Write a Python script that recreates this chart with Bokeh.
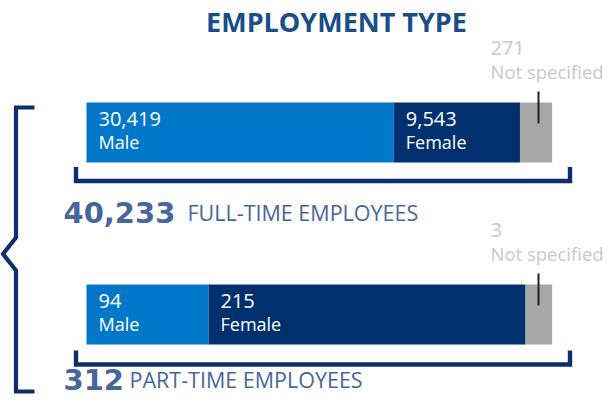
from bokeh.plotting import figure
from bokeh.models import Range1d, ColumnDataSource
from bokeh.core.properties import value
from bokeh.embed import file_html
from bokeh.resources import INLINE

# ---- data ----
segments = ["Male", "Female", "Not specified"]
full_time_counts = [30419, 9543, 271]
part_time_counts = [94, 215, 3]
totals = [40233, 312]
total_labels = ["FULL-TIME EMPLOYEES", "PART-TIME EMPLOYEES"]
# share of the drawn bar length (%)
full_time_share = [66.0, 27.1, 6.9]
part_time_share = [26.2, 68.1, 5.7]
title_text = "EMPLOYMENT TYPE"

# ---- style ----
seg_colors = ["#0077c8", "#00306e", "#a7a7a7"]
navy = "#0c2f6b"
title_color = "#1b4e88"
sum_color = "#47679b"
grey_text = "#c8c8c8"
LABEL_FONT = "Open Sans"
NUM_FONT = "DejaVu Sans"
DY = -10  # baseline correction for svg text placement

W, H = 605, 396
p = figure(width=W, height=H, output_backend="svg", toolbar_location=None,
           x_axis_type=None, y_axis_type=None, min_border=0,
           x_range=Range1d(0, W), y_range=Range1d(H, 0),
           outline_line_color=None, background_fill_color="white",
           border_fill_color="white")
p.grid.visible = False

# share scale for the bars: 0% at x=86, 100% at x=551.6
X0, BW = 86.0, 465.6
p.extra_x_ranges = {"share": Range1d(-X0 / BW * 100, (W - X0) / BW * 100)}

bar_tops = [102, 284]
BAR_H = 60
rows = dict(y=[], left=[], right=[], color=[], num=[], name=[], top=[])
for top, counts, shares in zip(bar_tops, [full_time_counts, part_time_counts],
                               [full_time_share, part_time_share]):
    cum = 0.0
    for seg, c, s, col in zip(segments, counts, shares, seg_colors):
        rows["y"].append(top + BAR_H / 2)
        rows["left"].append(cum)
        rows["right"].append(cum + s)
        rows["color"].append(col)
        rows["num"].append(f"{c:,}")
        rows["name"].append(seg)
        rows["top"].append(top)
        cum += s
src = ColumnDataSource(rows)
p.hbar(y="y", left="left", right="right", height=BAR_H, color="color",
       line_color=None, source=src, x_range_name="share")

# inside labels (Male / Female)
inside = {k: [v for v, n in zip(rows[k], rows["name"]) if n != "Not specified"] for k in rows}
isrc = ColumnDataSource(dict(x=inside["left"],
                             y1=[t + 26 + DY for t in inside["top"]],
                             y2=[t + 49 + DY for t in inside["top"]],
                             num=inside["num"], name=inside["name"]))
p.text(x="x", y="y1", text="num", source=isrc, x_range_name="share", x_offset=12,
       text_font=value(LABEL_FONT), text_font_size="20px", text_color="white",
       text_baseline="alphabetic")
p.text(x="x", y="y2", text="name", source=isrc, x_range_name="share", x_offset=12,
       text_font=value(LABEL_FONT), text_font_size="18px", text_color="white",
       text_baseline="alphabetic")

# Not specified callouts
ns = [(t, r) for t, r, n in zip(rows["top"], rows["num"], rows["name"]) if n == "Not specified"]
p.text(x=[490] * 2, y=[t - 44.5 + DY for t, _ in ns], text=[r for _, r in ns],
       text_font=value(LABEL_FONT), text_font_size="20px", text_color=grey_text,
       text_baseline="alphabetic")
p.text(x=[490] * 2, y=[t - 21 + DY for t, _ in ns], text=["Not specified"] * 2,
       text_font=value(LABEL_FONT), text_font_size="18.5px", text_color=grey_text,
       text_baseline="alphabetic")
p.segment(x0=[538] * 2, x1=[538] * 2, y0=[t - 11 for t, _ in ns],
          y1=[t + 21 for t, _ in ns], line_color="#222222", line_width=2)

# brackets under bars
for tip, bot in [(166.5, 180.5), (350, 364)]:
    p.line([75.5, 75.5, 569.5, 569.5], [tip, bot, bot, tip], line_color=navy,
           line_width=4.4, line_join="miter")

# big left brace
p.line([34, 15.5, 15.5, 2.5, 15.5, 15.5, 34],
       [107, 107, 237, 253.5, 270, 391, 391],
       line_color=navy, line_width=4.2, line_join="miter")

# totals
p.text(x=[63, 63], y=[222 + DY, 389 + DY], text=[f"{t:,}" for t in totals],
       text_font=value(NUM_FONT), text_font_size="29px", text_font_style="bold",
       text_color=sum_color, text_baseline="alphabetic")
p.text(x=[187, 129], y=[222 + DY, 389 + DY], text=total_labels,
       text_font=value(LABEL_FONT), text_font_size="21.5px", text_color=sum_color,
       text_baseline="alphabetic")

# title
p.text(x=[336], y=[31 + DY], text=[title_text], text_font=value(LABEL_FONT),
       text_font_size="27px", text_font_style="bold", text_color=title_color,
       text_align="center", text_baseline="alphabetic")

open("out.html", "w").write(file_html(p, INLINE))
